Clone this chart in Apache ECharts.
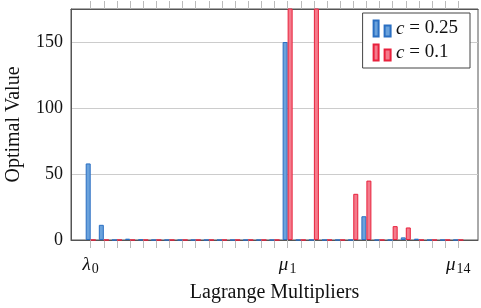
<!DOCTYPE html>
<html>
<head>
<meta charset="utf-8">
<script src="https://cdn.jsdelivr.net/npm/echarts@6/dist/echarts.min.js"></script>
<style>
  html, body { margin: 0; padding: 0; background: #fff; }
  #chart { width: 481px; height: 308px; }
</style>
</head>
<body>
<div id="chart"></div>
<script>
  // multiplier names: lambda_0..lambda_14, mu_1..mu_14
  var lambdas = ['λ0','λ1','λ2','λ3','λ4','λ5','λ6','λ7','λ8','λ9','λ10','λ11','λ12','λ13','λ14'];
  var mus = ['μ1','μ2','μ3','μ4','μ5','μ6','μ7','μ8','μ9','μ10','μ11','μ12','μ13','μ14'];
  var shownLabels = ['λ0', 'μ1', 'μ14'];

  // c = 0.25
  var blueVals = [58, 11.5, 0, 1, 0.3, 0, 0, 0, 0, 0, 0, 0, 0, 0, 0,
                  150, 0, 0, 0, 0, 0, 18, 0, 0, 2, 1, 0, 0, 0];
  // c = 0.1  (two bars run past the top of the axis)
  var redVals = [0, 0, 0, 0, 0, 0, 0, 0, 0, 0, 0, 0, 0, 0, 0,
                 260, 0, 260, 0, 0, 35, 45, 0, 10.5, 9.5, 0, 0, 0, 0];

  var yTicks = [0, 50, 100, 150];

  // one empty slot on each side, like the enlarged x limits
  var cats = [''].concat(lambdas, mus, ['']);
  function pad(arr) { return [null].concat(arr, [null]); }

  var serif = '"Liberation Serif", "DejaVu Serif", serif';
  var chart = echarts.init(document.getElementById('chart'));

  var tickShow = function (idx) { return idx >= 1 && idx <= cats.length - 2; };

  var option = {
    animation: false,
    grid: {
      left: 71, right: 3, top: 9, bottom: 68,
      outerBoundsMode: 'none',
      containLabel: false,
      show: true, borderColor: '#555', borderWidth: 1
    },
    legend: {
      right: 11, top: 13,
      orient: 'vertical',
      backgroundColor: '#fff',
      borderColor: '#444', borderWidth: 1,
      padding: [6, 12, 6, 10],
      itemWidth: 18, itemHeight: 16, itemGap: 5,
      icon: 'path://M0,0H5V16H0Z M11,5H17V16H11Z',
      textStyle: {
        fontFamily: serif, fontSize: 19, color: '#111',
        rich: { i: { fontFamily: serif, fontSize: 19, fontStyle: 'italic', color: '#111' } }
      },
      formatter: function (name) { return '{i|c} = ' + name.replace('c = ', ''); },
      data: ['c = 0.25', 'c = 0.1']
    },
    xAxis: [{
      type: 'category',
      data: cats,
      position: 'bottom',
      name: 'Lagrange Multipliers',
      nameLocation: 'middle',
      nameGap: 43,
      nameTextStyle: { fontFamily: serif, fontSize: 20, color: '#111' },
      axisLine: { lineStyle: { color: '#555', width: 1 } },
      axisTick: { show: true, alignWithLabel: true, interval: tickShow, length: 8, lineStyle: { color: '#bbb' } },
      axisLabel: {
        interval: function (idx, val) { return shownLabels.indexOf(val) >= 0; },
        margin: 14,
        formatter: function (val) {
          return '{g|' + val.charAt(0) + '}{s|' + val.slice(1) + '}';
        },
        rich: {
          g: { fontFamily: serif, fontSize: 19, fontStyle: 'italic', color: '#111' },
          s: { fontFamily: serif, fontSize: 14, color: '#111', padding: [8, 0, 0, 1] }
        }
      }
    }, {
      type: 'category',
      data: cats,
      position: 'top',
      axisLine: { lineStyle: { color: '#555', width: 1 } },
      axisTick: { show: true, alignWithLabel: true, interval: tickShow, length: 8, lineStyle: { color: '#bbb' } },
      axisLabel: { show: false }
    }],
    yAxis: {
      type: 'value',
      min: 0, max: 175, interval: 50,
      name: 'Optimal Value',
      nameLocation: 'middle',
      nameGap: 47,
      nameTextStyle: { fontFamily: serif, fontSize: 20, color: '#111' },
      axisLine: { show: true, lineStyle: { color: '#555' } },
      axisTick: { show: false },
      axisLabel: {
        fontFamily: serif, fontSize: 18, color: '#111', margin: 8,
        formatter: function (v) { return yTicks.indexOf(v) >= 0 ? String(v) : ''; }
      },
      splitLine: { lineStyle: { color: '#ccc', width: 1 } }
    },
    series: [{
      name: 'c = 0.25',
      type: 'bar',
      data: pad(blueVals),
      barWidth: 5,
      barGap: 0,
      clip: true,
      itemStyle: { color: '#6aa2dc', borderColor: '#2a6fc2', borderWidth: 1 }
    }, {
      name: 'c = 0.1',
      type: 'bar',
      data: pad(redVals),
      barWidth: 5,
      barGap: 0,
      clip: true,
      itemStyle: { color: '#f47b8c', borderColor: '#e8213c', borderWidth: 1 }
    }]
  };

  chart.setOption(option);
</script>
</body>
</html>
